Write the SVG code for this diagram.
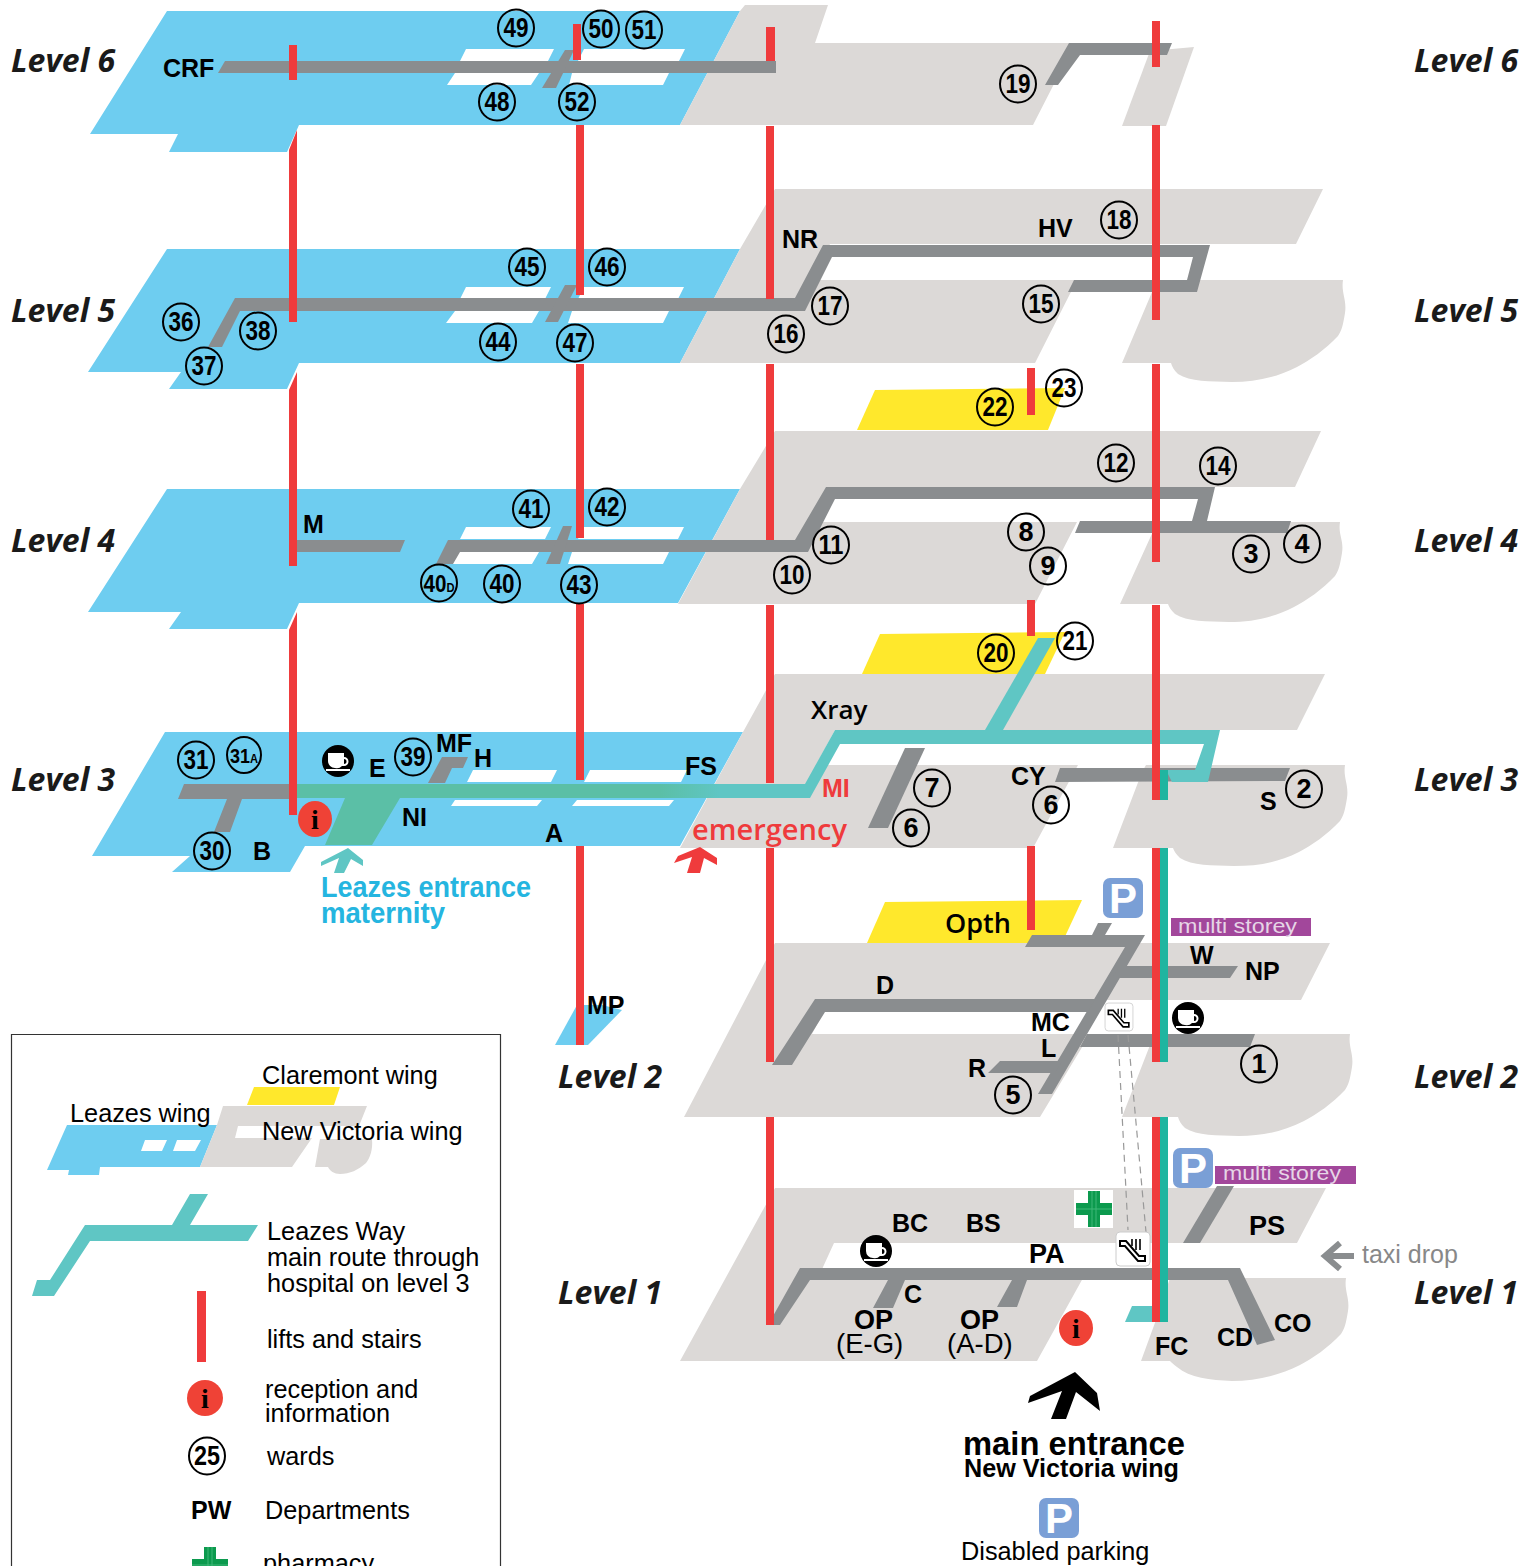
<svg xmlns="http://www.w3.org/2000/svg" width="1533" height="1566" viewBox="0 0 1533 1566">
<style>
text{font-family:"Liberation Sans",Arial,sans-serif;fill:#000}
.blue{fill:#6ecdf0}.grey{fill:#dcd9d7}.yellow{fill:#ffe82c}.slot{fill:#fff}
.road{fill:#8a8d8f}.teal{fill:#5fc6c4}
.lift{fill:#ef3b3c}.lift2{fill:#1fb5a0}
.lvl{font-family:"Open Sans","Liberation Sans",sans-serif;font-style:italic;font-weight:700;font-size:32px;fill:#1a1a1a}
.w{fill:none;stroke:#000;stroke-width:2}
.wt{font-weight:700;font-size:27px;text-anchor:middle}
.dep{font-weight:700;font-size:25px}
.big{font-weight:700;font-size:27px}
.leg{font-size:25.3px}
.pb{fill:#7a9fd6}.pt{fill:#fff;font-weight:700;font-size:42px;text-anchor:middle}
.ms{fill:#a2479b}.mt{fill:#e6d5e6;font-size:20px}
.info{fill:#ef4236}.it{font-family:"Liberation Serif",serif;font-weight:700;font-size:28px;text-anchor:middle}
.cup{fill:#fff}
</style>
<defs>
<linearGradient id="lz" gradientUnits="userSpaceOnUse" x1="660" y1="0" x2="720" y2="0"><stop offset="0" stop-color="#5bbfa6"/><stop offset="1" stop-color="#5fc6c4"/></linearGradient>
<g id="coffee"><circle r="16" fill="#000"/><path class="cup" d="M-10,-8H6V-4A4.5,4.5 0 0 1 6,5H4A7,7 0 0 1 -3,7H-3A7,7 0 0 1 -10,0Z M6,-2V3A2.5,2.5 0 0 0 6,-2Z" fill-rule="evenodd"/><rect class="cup" x="-12" y="8" width="24" height="2"/></g>
<g id="esc"><rect x="-17" y="-17" width="34" height="34" rx="4" fill="#fff" stroke="#ccc"/><path d="M-13,-8L-7,-8L6,7L12,7L12,12L5,12L-8,-3L-13,-3Z" fill="#fff" stroke="#000" stroke-width="2"/><path d="M-1,-10V-3M3,-10V1M7,-10V1" stroke="#000" stroke-width="1.6"/></g>
<g id="cross"><path d="M-6,-18H6V-6H18V6H6V18H-6V6H-18V-6H-6Z" fill="#0c9a4e"/><path d="M-2,-18V18M2,-18V18M-18,0H18" stroke="#3fb878" stroke-width="1"/></g>
</defs>

<g id="floors">
<g id="level6-floor">
<path class="blue" d="M167,11H740L680,125H299L287,152H169L178,134H90Z"/>
<path class="grey" d="M745,5H828L815,43H1075L1033,125H680L740,11Z"/>
<path class="grey" d="M1150,51L1194,47L1166,126H1122Z"/>
<path class="slot" d="M466,49H554L548,61H460Z M584,49H685L679,61H578Z M455,73H539L531,85H447Z M572,73H669L663,85H569Z"/>
</g>
<g id="level5-floor">
<path class="blue" d="M167,249H740L680,363H299L287,389H169L181,372H88Z"/>
<path class="grey" d="M775,189H1323L1296,244H830L812,280H1077L1035,363H680L740,249Z"/>
<path class="grey" d="M1155,285L1160,280H1343C1341,293 1347,300 1345,313C1343,325 1342,330 1338,336C1325,350 1310,360 1297,367C1275,378 1255,382 1232,382C1210,381 1190,382 1178,374C1174,370 1172,367 1171,363H1122Z"/>
<path class="slot" d="M466,287H551L545,299H460Z M584,287H684L678,299H578Z M455,311H539L532,323H446Z M572,311H669L663,323H568Z"/>
</g>
<g id="level4-floor">
<path class="yellow" d="M875,390L1065,388L1048,430H857Z"/>
<path class="blue" d="M167,489H740L678,603H299L287,629H169L181,612H88Z"/>
<path class="grey" d="M775,431H1321L1295,487H830L812,522H1077L1035,604H678L740,489Z"/>
<path class="grey" d="M1155,527L1160,522H1340C1338,535 1344,540 1342,553C1340,565 1339,570 1335,576C1322,590 1307,600 1294,607C1272,618 1252,622 1229,622C1207,621 1187,622 1175,614C1171,610 1169,607 1168,604H1120Z"/>
<path class="slot" d="M466,527H551L545,539H460Z M584,527H684L678,539H578Z M455,552H539L532,564H446Z M572,552H669L663,564H568Z"/>
</g>
<g id="level3-floor">
<path class="yellow" d="M880,634L1065,632L1045,674H862Z"/>
<path class="blue" d="M165,732H743L680,846H305L290,872H172L190,856H92Z"/>
<path class="grey" d="M775,674H1325L1297,730H835L816,765H1078L1033,848H680L743,732Z"/>
<path class="grey" d="M1142,772L1146,765H1345C1343,778 1349,785 1347,798C1345,810 1344,815 1340,821C1327,835 1312,845 1299,852C1277,863 1257,866 1234,866C1212,865 1192,866 1180,858C1176,854 1174,851 1173,848H1113Z"/>
<path class="slot" d="M473,770H557L551,782H467Z M590,770H687L681,782H584Z M455,800H542L537,806H451Z M577,800H674L669,806H572Z"/>
</g>
<g id="level2-floor">
<path class="yellow" d="M885,902L1082,900L1062,943H867Z"/>
<path class="grey" d="M775,943H1330L1301,1000H830L812,1034H1090L1040,1117H684Z"/>
<path class="grey" d="M1152,1040V1034H1350C1348,1047 1354,1054 1352,1067C1350,1079 1349,1084 1345,1090C1332,1104 1317,1114 1304,1121C1282,1132 1262,1136 1239,1136C1217,1135 1197,1136 1185,1128C1181,1124 1179,1121 1178,1117H1122Z"/>
<path class="blue" d="M555,1045L577,1005H602L622,1010L588,1045Z"/>
</g>
<g id="level1-floor">
<path class="grey" d="M775,1188H1326L1297,1243H834L818,1278H1083L1037,1361H680Z"/>
<path class="grey" d="M1156,1320L1170,1278H1346C1344,1291 1350,1298 1348,1311C1346,1323 1345,1328 1341,1334C1328,1348 1313,1358 1300,1365C1278,1376 1255,1381 1232,1381C1210,1380 1190,1378 1177,1367C1173,1364 1171,1362 1170,1361H1141Z"/>
</g>
</g>

<g id="connectors">
<g id="corridors">
<path class="road" d="M225,61H776V73H218Z"/>
<path class="road" d="M542,88H556L574,50H565Z"/>
<path class="road" d="M1045,85L1069,43H1172L1167,55H1080L1058,85Z"/>
<path class="road" d="M208,347L235,298H795L823,245H1210L1197,292H1068L1074,280H1187L1193,257H832L805,311H240L222,347Z"/>
<path class="road" d="M545,322H558L577,285H565Z"/>
<path class="road" d="M293,540H405L400,552H293Z"/>
<path class="road" d="M436,564L448,540H795L826,487H1215L1207,521H1291L1287,533H1075L1080,521H1192L1198,499H835L808,552H460L453,564Z"/>
<path class="road" d="M546,564H560L572,526H563Z"/>
<path class="road" d="M178,799L184,784H293V799H242L230,832H214L227,799Z"/>
<path class="road" d="M428,783L442,757H468L463,768H452L445,783Z"/>
<path class="road" d="M868,828L905,748H925L888,828Z"/>
<path class="road" d="M1055,782L1060,768H1290L1285,781Z"/>
<path class="teal" d="M985,730L1038,638H1055L1003,730Z"/>
<path fill="url(#lz)" d="M297,784H805L835,730H1220L1208,782H1172L1166,770H1195L1204,744H840L810,798H400L372,845H325L345,798H297Z"/>
<path class="road" d="M1025,947L1032,935H1092L1098,923H1112L1105,935H1145L1052,1094H1038L1125,947Z"/>
<path class="road" d="M772,1065L815,999H1095L1088,1012H825L792,1065Z"/>
<path class="road" d="M1120,966H1238L1230,978H1112Z M1087,1034H1255L1250,1047H1080Z M1000,1061H1062L1055,1073H988Z"/>
<path class="road" d="M768,1325L800,1268H1240L1275,1340L1257,1345L1228,1280H1027L1017,1307H997L1012,1280H905L893,1308H873L888,1280H810L780,1325Z"/>
<path class="road" d="M1183,1243L1217,1186H1234L1200,1243Z"/>
<path class="teal" d="M1125,1322L1132,1306H1155V1322Z"/>
</g>
<g id="lifts">
<path class="lift" d="M289,45h8v35h-8Z M573,24h8v36h-8Z M766,27h9v34h-9Z M1152,21h8v46h-8Z"/>
<path class="lift" d="M289,150L297,130V322H289Z M576,125h8V295h-8Z M766,126h8V299h-8Z M1152,125h8V320h-8Z"/>
<path class="lift" d="M289,390L297,372V566H289Z M576,364h8V538h-8Z M766,364h8V540h-8Z M1152,364h8V562h-8Z M1027,368h8v47h-8Z"/>
<path class="lift" d="M289,630L297,612V815H289Z M576,604h8V780h-8Z M766,605h8V783h-8Z M1152,605h8V800h-8Z M1027,600h8v36h-8Z"/>
<path class="lift" d="M576,846h8V1045h-8Z M766,848h8V1062h-8Z M1027,846h8v84h-8Z M1152,848h8V1062h-8Z"/>
<path class="lift" d="M766,1117h8V1325h-8Z M1152,1117h8V1322h-8Z"/>
<path class="lift2" d="M1160,770h8v30h-8Z M1160,848h8V1062h-8Z M1160,1117h8V1322h-8Z"/>
</g>
<g id="escalator-link" fill="none" stroke="#999" stroke-width="1.2" stroke-dasharray="7 5">
<path d="M1118,1035L1128,1230M1128,1035L1146,1232"/>
</g>
</g>

<g id="level-labels">
<text class="lvl" x="11" y="72">Level 6</text><text class="lvl" x="1414" y="72">Level 6</text>
<text class="lvl" x="11" y="322">Level 5</text><text class="lvl" x="1414" y="322">Level 5</text>
<text class="lvl" x="11" y="552">Level 4</text><text class="lvl" x="1414" y="552">Level 4</text>
<text class="lvl" x="11" y="791">Level 3</text><text class="lvl" x="1414" y="791">Level 3</text>
<text class="lvl" x="558" y="1088">Level 2</text><text class="lvl" x="1414" y="1088">Level 2</text>
<text class="lvl" x="558" y="1304">Level 1</text><text class="lvl" x="1414" y="1304">Level 1</text>
</g>

<g id="wards">
<g id="w49"><ellipse class="w" cx="516" cy="28" rx="18" ry="18.5"/><text class="wt" x="516" y="37" textLength="25" lengthAdjust="spacingAndGlyphs">49</text></g>
<g id="w50"><ellipse class="w" cx="601" cy="29" rx="18" ry="18.5"/><text class="wt" x="601" y="38" textLength="25" lengthAdjust="spacingAndGlyphs">50</text></g>
<g id="w51"><ellipse class="w" cx="644" cy="30" rx="18" ry="18.5"/><text class="wt" x="644" y="39" textLength="25" lengthAdjust="spacingAndGlyphs">51</text></g>
<g id="w48"><ellipse class="w" cx="497" cy="102" rx="18" ry="18.5"/><text class="wt" x="497" y="111" textLength="25" lengthAdjust="spacingAndGlyphs">48</text></g>
<g id="w52"><ellipse class="w" cx="577" cy="102" rx="18" ry="18.5"/><text class="wt" x="577" y="111" textLength="25" lengthAdjust="spacingAndGlyphs">52</text></g>
<g id="w19"><ellipse class="w" cx="1018" cy="84" rx="18" ry="18.5"/><text class="wt" x="1018" y="93" textLength="25" lengthAdjust="spacingAndGlyphs">19</text></g>
<g id="w45"><ellipse class="w" cx="527" cy="267" rx="18" ry="18.5"/><text class="wt" x="527" y="276" textLength="25" lengthAdjust="spacingAndGlyphs">45</text></g>
<g id="w46"><ellipse class="w" cx="607" cy="267" rx="18" ry="18.5"/><text class="wt" x="607" y="276" textLength="25" lengthAdjust="spacingAndGlyphs">46</text></g>
<g id="w44"><ellipse class="w" cx="498" cy="342" rx="18" ry="18.5"/><text class="wt" x="498" y="351" textLength="25" lengthAdjust="spacingAndGlyphs">44</text></g>
<g id="w47"><ellipse class="w" cx="575" cy="343" rx="18" ry="18.5"/><text class="wt" x="575" y="352" textLength="25" lengthAdjust="spacingAndGlyphs">47</text></g>
<g id="w36"><ellipse class="w" cx="181" cy="322" rx="18" ry="18.5"/><text class="wt" x="181" y="331" textLength="25" lengthAdjust="spacingAndGlyphs">36</text></g>
<g id="w38"><ellipse class="w" cx="258" cy="331" rx="18" ry="18.5"/><text class="wt" x="258" y="340" textLength="25" lengthAdjust="spacingAndGlyphs">38</text></g>
<g id="w37"><ellipse class="w" cx="204" cy="366" rx="18" ry="18.5"/><text class="wt" x="204" y="375" textLength="25" lengthAdjust="spacingAndGlyphs">37</text></g>
<g id="w16"><ellipse class="w" cx="786" cy="334" rx="18" ry="18.5"/><text class="wt" x="786" y="343" textLength="25" lengthAdjust="spacingAndGlyphs">16</text></g>
<g id="w17"><ellipse class="w" cx="830" cy="306" rx="18" ry="18.5"/><text class="wt" x="830" y="315" textLength="25" lengthAdjust="spacingAndGlyphs">17</text></g>
<g id="w15"><ellipse class="w" cx="1041" cy="304" rx="18" ry="18.5"/><text class="wt" x="1041" y="313" textLength="25" lengthAdjust="spacingAndGlyphs">15</text></g>
<g id="w18"><ellipse class="w" cx="1119" cy="220" rx="18" ry="18.5"/><text class="wt" x="1119" y="229" textLength="25" lengthAdjust="spacingAndGlyphs">18</text></g>
<g id="w22"><ellipse class="w" cx="995" cy="407" rx="18" ry="18.5"/><text class="wt" x="995" y="416" textLength="25" lengthAdjust="spacingAndGlyphs">22</text></g>
<g id="w23"><ellipse class="w" cx="1064" cy="388" rx="18" ry="18.5"/><text class="wt" x="1064" y="397" textLength="25" lengthAdjust="spacingAndGlyphs">23</text></g>
<g id="w12"><ellipse class="w" cx="1116" cy="463" rx="18" ry="18.5"/><text class="wt" x="1116" y="472" textLength="25" lengthAdjust="spacingAndGlyphs">12</text></g>
<g id="w14"><ellipse class="w" cx="1218" cy="466" rx="18" ry="18.5"/><text class="wt" x="1218" y="475" textLength="25" lengthAdjust="spacingAndGlyphs">14</text></g>
<g id="w41"><ellipse class="w" cx="531" cy="509" rx="18" ry="18.5"/><text class="wt" x="531" y="518" textLength="25" lengthAdjust="spacingAndGlyphs">41</text></g>
<g id="w42"><ellipse class="w" cx="607" cy="507" rx="18" ry="18.5"/><text class="wt" x="607" y="516" textLength="25" lengthAdjust="spacingAndGlyphs">42</text></g>
<g id="w40D"><ellipse class="w" cx="439" cy="583" rx="18" ry="18.5"/><text class="wt" x="439" y="592" textLength="31" lengthAdjust="spacingAndGlyphs" style="font-size:24px">40<tspan style="font-size:13px">D</tspan></text></g>
<g id="w40"><ellipse class="w" cx="502" cy="584" rx="18" ry="18.5"/><text class="wt" x="502" y="593" textLength="25" lengthAdjust="spacingAndGlyphs">40</text></g>
<g id="w43"><ellipse class="w" cx="579" cy="585" rx="18" ry="18.5"/><text class="wt" x="579" y="594" textLength="25" lengthAdjust="spacingAndGlyphs">43</text></g>
<g id="w11"><ellipse class="w" cx="831" cy="545" rx="18" ry="18.5"/><text class="wt" x="831" y="554" textLength="25" lengthAdjust="spacingAndGlyphs">11</text></g>
<g id="w10"><ellipse class="w" cx="792" cy="575" rx="18" ry="18.5"/><text class="wt" x="792" y="584" textLength="25" lengthAdjust="spacingAndGlyphs">10</text></g>
<g id="w8"><ellipse class="w" cx="1026" cy="532" rx="18" ry="18.5"/><text class="wt" x="1026" y="541">8</text></g>
<g id="w9"><ellipse class="w" cx="1048" cy="566" rx="18" ry="18.5"/><text class="wt" x="1048" y="575">9</text></g>
<g id="w3"><ellipse class="w" cx="1251" cy="554" rx="18" ry="18.5"/><text class="wt" x="1251" y="563">3</text></g>
<g id="w4"><ellipse class="w" cx="1302" cy="544" rx="18" ry="18.5"/><text class="wt" x="1302" y="553">4</text></g>
<g id="w20"><ellipse class="w" cx="996" cy="653" rx="18" ry="18.5"/><text class="wt" x="996" y="662" textLength="25" lengthAdjust="spacingAndGlyphs">20</text></g>
<g id="w21"><ellipse class="w" cx="1075" cy="641" rx="18" ry="18.5"/><text class="wt" x="1075" y="650" textLength="25" lengthAdjust="spacingAndGlyphs">21</text></g>
<g id="w31"><ellipse class="w" cx="196" cy="760" rx="18" ry="18.5"/><text class="wt" x="196" y="769" textLength="25" lengthAdjust="spacingAndGlyphs">31</text></g>
<g id="w31A"><ellipse class="w" cx="244" cy="755" rx="17" ry="18"/><text class="wt" x="244" y="763" textLength="28" lengthAdjust="spacingAndGlyphs" style="font-size:21px">31<tspan style="font-size:13px">A</tspan></text></g>
<g id="w39"><ellipse class="w" cx="413" cy="757" rx="18" ry="18.5"/><text class="wt" x="413" y="766" textLength="25" lengthAdjust="spacingAndGlyphs">39</text></g>
<g id="w30"><ellipse class="w" cx="212" cy="851" rx="18" ry="18.5"/><text class="wt" x="212" y="860" textLength="25" lengthAdjust="spacingAndGlyphs">30</text></g>
<g id="w7"><ellipse class="w" cx="932" cy="788" rx="18" ry="18.5"/><text class="wt" x="932" y="797">7</text></g>
<g id="w6a"><ellipse class="w" cx="911" cy="828" rx="18" ry="18.5"/><text class="wt" x="911" y="837">6</text></g>
<g id="w6b"><ellipse class="w" cx="1051" cy="805" rx="18" ry="18.5"/><text class="wt" x="1051" y="814">6</text></g>
<g id="w2"><ellipse class="w" cx="1304" cy="789" rx="18" ry="18.5"/><text class="wt" x="1304" y="798">2</text></g>
<g id="w5"><ellipse class="w" cx="1013" cy="1095" rx="18" ry="18.5"/><text class="wt" x="1013" y="1104">5</text></g>
<g id="w1"><ellipse class="w" cx="1259" cy="1064" rx="18" ry="18.5"/><text class="wt" x="1259" y="1073">1</text></g>
</g>

<g id="departments">
<text class="dep" x="163" y="77">CRF</text>
<text class="dep" x="782" y="248">NR</text>
<text class="dep" x="1038" y="237">HV</text>
<text class="dep" x="303" y="533">M</text>
<text class="dep" x="369" y="777">E</text>
<text class="dep" x="436" y="752">MF</text>
<text class="dep" x="474" y="767">H</text>
<text class="dep" x="402" y="826">NI</text>
<text class="dep" x="685" y="775">FS</text>
<text class="dep" x="253" y="860">B</text>
<text class="dep" x="545" y="842">A</text>
<text class="dep" x="822" y="797" style="fill:#ef3b3c">MI</text>
<text x="811" y="719" style="font-family:'Open Sans','Liberation Sans',sans-serif;font-weight:600;font-size:26px">Xray</text>
<text class="dep" x="1011" y="785">CY</text>
<text class="dep" x="1260" y="810">S</text>
<text class="dep" x="876" y="994">D</text>
<text x="945" y="933" style="font-family:'Open Sans','Liberation Sans',sans-serif;font-weight:600;font-size:27px">Opth</text>
<text class="dep" x="1190" y="964">W</text>
<text class="dep" x="1245" y="980">NP</text>
<text class="dep" x="1031" y="1031">MC</text>
<text class="dep" x="1041" y="1057">L</text>
<text class="dep" x="968" y="1077">R</text>
<text class="dep" x="587" y="1014">MP</text>
<text class="dep" x="892" y="1232">BC</text>
<text class="dep" x="966" y="1232">BS</text>
<text class="big" x="1029" y="1263">PA</text>
<text class="dep" x="904" y="1303">C</text>
<text class="big" x="854" y="1329">OP</text>
<text class="leg" x="836" y="1353" style="font-size:27.5px">(E-G)</text>
<text class="big" x="960" y="1329">OP</text>
<text class="leg" x="947" y="1353" style="font-size:27.5px">(A-D)</text>
<text class="big" x="1249" y="1235">PS</text>
<text class="dep" x="1155" y="1355">FC</text>
<text class="dep" x="1217" y="1346">CD</text>
<text class="dep" x="1274" y="1332">CO</text>
</g>

<g id="entrances">
<path id="leazes-arrow" class="teal" d="M348,848L363,860V866L351,859L344,873H334L339,858L321,866V862Z"/>
<text x="321" y="897" textLength="210" lengthAdjust="spacingAndGlyphs" style="font-weight:700;font-size:29px;fill:#25b5e0">Leazes entrance</text>
<text x="321" y="923" textLength="124" lengthAdjust="spacingAndGlyphs" style="font-weight:700;font-size:29px;fill:#25b5e0">maternity</text>
<path id="emergency-arrow" class="lift" d="M700,847L717,858V865L704,858L700,873H687L692,857L674,863L678,856Z"/>
<text x="692" y="840" textLength="155" lengthAdjust="spacingAndGlyphs" style="font-family:'Open Sans','Liberation Sans',sans-serif;font-weight:600;font-size:28px;fill:#ef3b3c">emergency</text>
<path id="main-arrow" d="M1075,1372L1097,1393L1100,1411L1076,1392L1066,1419H1051L1062,1391L1028,1403L1030,1396Z" fill="#000"/>
<text x="963" y="1455" textLength="222" lengthAdjust="spacingAndGlyphs" style="font-weight:700;font-size:33px">main entrance</text>
<text x="964" y="1477" textLength="215" lengthAdjust="spacingAndGlyphs" style="font-weight:700;font-size:25px">New Victoria wing</text>
<g id="taxi"><path d="M1354,1256H1326M1340,1243L1325,1256L1340,1269" fill="none" stroke="#8a8d8f" stroke-width="6"/><text x="1362" y="1263" style="font-size:25px;fill:#888">taxi drop</text></g>
<text x="961" y="1560" class="leg">Disabled parking</text>
</g>

<g id="icons">
<use href="#coffee" x="338" y="761"/><use href="#coffee" x="1188" y="1018"/><use href="#coffee" x="876" y="1251"/>
<g id="info1"><ellipse class="info" cx="315" cy="819" rx="17" ry="18"/><text class="it" x="315" y="829">i</text></g>
<g id="info2"><ellipse class="info" cx="1076" cy="1328" rx="17" ry="18"/><text class="it" x="1076" y="1338">i</text></g>
<g id="P1"><rect class="pb" x="1103" y="878" width="40" height="40" rx="7"/><text class="pt" x="1123" y="913">P</text></g>
<g id="P2"><rect class="pb" x="1173" y="1148" width="40" height="40" rx="7"/><text class="pt" x="1193" y="1183">P</text></g>
<g id="P3"><rect class="pb" x="1039" y="1498" width="40" height="40" rx="7"/><text class="pt" x="1059" y="1533">P</text></g>
<g id="ms1"><rect class="ms" x="1171" y="918" width="140" height="18"/><text class="mt" x="1178" y="933" textLength="119" lengthAdjust="spacingAndGlyphs">multi storey</text></g>
<g id="ms2"><rect class="ms" x="1215" y="1166" width="141" height="18"/><text class="mt" x="1223" y="1180" textLength="118" lengthAdjust="spacingAndGlyphs">multi storey</text></g>
<use href="#esc" transform="translate(1119,1017) scale(.82)"/>
<use href="#esc" x="1133" y="1249"/>
<g id="pharmacy"><rect x="1074" y="1190" width="39" height="38" fill="#fff"/><use href="#cross" x="1094" y="1209"/></g>
</g>

<g id="legend">
<path d="M11.5,1566V1034.5H500.5V1566" fill="none" stroke="#333" stroke-width="1.2"/>
<path class="blue" d="M67,1125H217L200,1167H100L99,1175H68L69,1170H47Z"/>
<path class="grey" d="M223,1106H367L359,1126H238L235,1138H312L292,1167H200L217,1125Z"/>
<path class="grey" d="M320,1139H372C373,1150 370,1158 366,1163C358,1170 350,1174 340,1174C334,1174 330,1171 328,1167H315Z"/>
<path class="slot" d="M145,1140H167L162,1151H141Z M177,1140H201L195,1151H173Z"/>
<path class="yellow" d="M254,1087H340L334,1105H247Z"/>
<text class="leg" x="262" y="1084">Claremont wing</text>
<text class="leg" x="70" y="1122">Leazes wing</text>
<text class="leg" x="262" y="1140">New Victoria wing</text>
<path class="teal" d="M85,1225H172L190,1194H208L190,1225H258L248,1241H90L54,1296H32L37,1280H50Z"/>
<text class="leg" x="267" y="1240">Leazes Way</text>
<text class="leg" x="267" y="1266">main route through</text>
<text class="leg" x="267" y="1292">hospital on level 3</text>
<rect class="lift" x="197" y="1291" width="9" height="71"/>
<text class="leg" x="267" y="1348">lifts and stairs</text>
<g id="info3"><ellipse class="info" cx="205" cy="1398" rx="18" ry="18"/><text class="it" x="205" y="1408">i</text></g>
<text class="leg" x="265" y="1398">reception and</text>
<text class="leg" x="265" y="1422">information</text>
<g id="w25"><ellipse class="w" cx="207" cy="1456" rx="18" ry="18.5"/><text class="wt" x="207" y="1465" textLength="26" lengthAdjust="spacingAndGlyphs">25</text></g>
<text class="leg" x="267" y="1465">wards</text>
<text class="dep" x="191" y="1519">PW</text>
<text class="leg" x="265" y="1519">Departments</text>
<use href="#cross" x="210" y="1565"/>
<text class="leg" x="263" y="1572">pharmacy</text>
</g>
</svg>
